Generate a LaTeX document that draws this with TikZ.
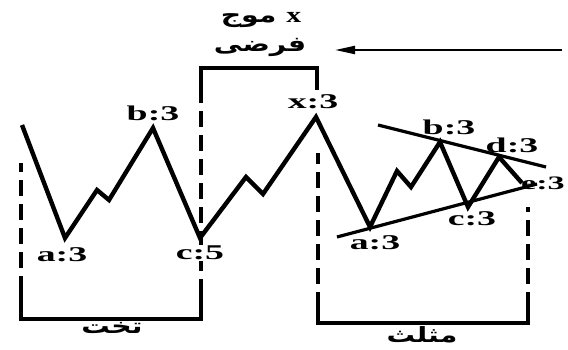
\documentclass[tikz,border=0pt]{standalone}
\usepackage{fontspec}
\setmainfont{Liberation Serif}
\newfontfamily\arabicfont[Script=Arabic]{DejaVu Sans}
\TeXXeTstate=1
\usetikzlibrary{arrows.meta}

\begin{document}
\begin{tikzpicture}[x=1pt, y=-1pt,
    wave/.style={line width=4.4pt, line join=miter},
    trend/.style={line width=3.2pt},
    brk/.style={line width=3.2pt},
    dsh/.style={line width=3.2pt, dash pattern=on 16pt off 8pt},
    lbl/.style={font=\fontsize{21}{22}\selectfont\bfseries, xscale=1.8, inner sep=1pt},
    lblw/.style={lbl, fill=white},
    farsi/.style={font=\arabicfont\fontsize{21}{23}\selectfont\bfseries, xscale=1.35, inner sep=1pt},
    arr/.style={-{Triangle[length=20pt, width=8pt]}, line width=2.2pt}
  ]
  \useasboundingbox (0,0) rectangle (568,350);

  % wave points
  \coordinate (w0) at (22,125);
  \coordinate (fa) at (65,238);
  \coordinate (f1) at (97,190);
  \coordinate (f2) at (109,200);
  \coordinate (fb) at (153,128);
  \coordinate (fc) at (200,238);
  \coordinate (x1) at (246,177);
  \coordinate (x2) at (263,194);
  \coordinate (xx) at (316,117);
  \coordinate (ta) at (370,227);
  \coordinate (t1) at (397,171);
  \coordinate (t2) at (411,187);
  \coordinate (tb) at (440,142);
  \coordinate (tc) at (468,207);
  \coordinate (td) at (499,157);
  \coordinate (te) at (522,183);

  % brackets
  \draw[dsh] (201,87) -- (201,295);
  \draw[brk] (201,87) -- (201,68) -- (317,68) -- (317,90);
  \draw[brk] (21,292) -- (21,319) -- (201,319) -- (201,294);
  \draw[dsh] (21,292) -- (21,163);
  \draw[dsh] (318,308) -- (318,153);
  \draw[dsh] (528,308) -- (528,207);
  \draw[brk] (318,307) -- (318,323) -- (528,323) -- (528,307);

  % labels
  \node[lblw] (la1) at (62,255) {a:3};
  \node[lbl] (lb1) at (153,113) {b:3};
  \node[lblw] (lc1) at (200,253) {c:5};
  \node[lbl] (lx) at (313,102) {x:3};
  \node[lbl] (la2) at (375,243) {a:3};
  \node[lbl] (lb2) at (449,127) {b:3};
  \node[lbl] (lc2) at (472,219) {c:3};
  \node[lbl] (ld2) at (512,145) {d:3};
  \node[lbl, font=\fontsize{19}{20}\selectfont\bfseries, anchor=east] (le2) at (567,183) {e:3};

  % wave and triangle lines
  \draw[wave] (w0) -- (fa) -- (f1) -- (f2) -- (fb) -- (fc) -- (x1) -- (x2)
    -- (xx) -- (ta) -- (t1) -- (t2) -- (tb) -- (tc) -- (td) -- (te);
  \coordinate (u0) at (378,125);
  \coordinate (u1) at (546,167);
  \coordinate (l0) at (337,237);
  \coordinate (l1) at (537,184);
  \draw[trend] (u0) -- (u1);
  \draw[trend] (l0) -- (l1);

  % persian texts
  \node[farsi] (mx) at (261,20) {\beginR{\rmfamily\bfseries\fontsize{22}{22}\selectfont x} موج\endR};
  \node[farsi] (fr) at (260,47) {\beginR فرضی\endR};
  \node[farsi] (tk) at (112,328) {\beginR تخت\endR};
  \node[farsi] (ms) at (422,335) {\beginR مثلث\endR};

  \coordinate (a0) at (562,50);
  \coordinate (a1) at (335,50);
  \draw[arr] (a0) -- (a1);
\end{tikzpicture}
\end{document}
